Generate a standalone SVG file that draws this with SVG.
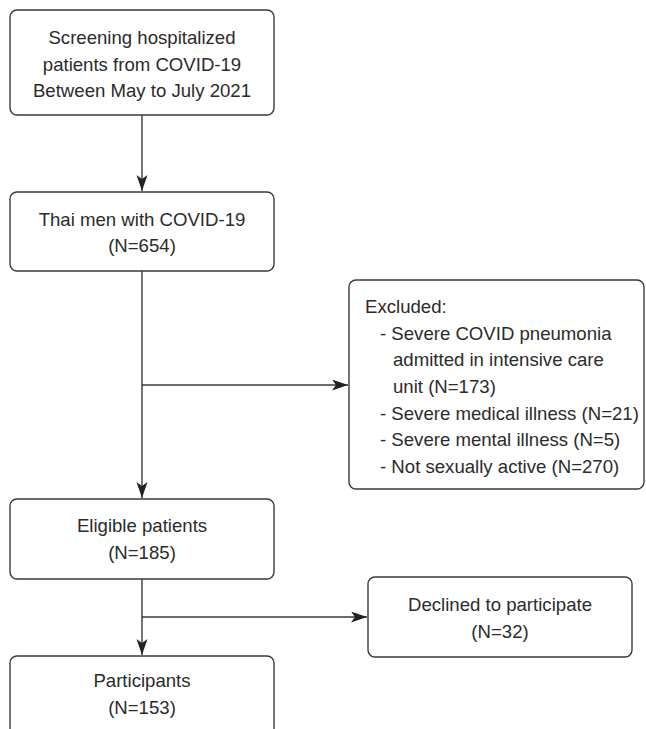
<svg xmlns="http://www.w3.org/2000/svg" width="646" height="729" viewBox="0 0 646 729">
<style>
.box{fill:#fff;stroke:#3a3a3a;stroke-width:1.4}
.t{font-family:"Liberation Sans",Arial,sans-serif;font-size:18.6px;fill:#2b2b2b}
.c{text-anchor:middle}
.ln{fill:none;stroke:#3a3a3a;stroke-width:1.4}
</style>
<defs>
<marker id="ah" markerUnits="userSpaceOnUse" markerWidth="18" markerHeight="12" refX="16" refY="5.5" orient="auto">
<path d="M0,0 L16,5.5 L0,11 L4,5.5 z" fill="#222"/>
</marker>
</defs>
<rect width="646" height="729" fill="#fff"/>
<g id="connectors">
<line class="ln" x1="142" y1="115" x2="142" y2="191" marker-end="url(#ah)"/>
<line class="ln" x1="142" y1="271" x2="142" y2="498" marker-end="url(#ah)"/>
<line class="ln" x1="142" y1="385" x2="348" y2="385" marker-end="url(#ah)"/>
<line class="ln" x1="142" y1="579" x2="142" y2="655" marker-end="url(#ah)"/>
<line class="ln" x1="142" y1="617" x2="367" y2="617" marker-end="url(#ah)"/>
</g>
<g id="screening">
<rect class="box" x="10" y="10" width="264" height="105" rx="7"/>
<text class="t c" x="142" y="44">Screening hospitalized</text>
<text class="t c" x="142" y="71">patients from COVID-19</text>
<text class="t c" x="142" y="97">Between May to July 2021</text>
</g>
<g id="thai">
<rect class="box" x="10" y="192" width="264" height="79" rx="7"/>
<text class="t c" x="142" y="226">Thai men with COVID-19</text>
<text class="t c" x="142" y="252">(N=654)</text>
</g>
<g id="excluded">
<rect class="box" x="349" y="280" width="295" height="209" rx="7"/>
<text class="t" x="365" y="313">Excluded:</text>
<text class="t" x="380" y="340">- Severe COVID pneumonia</text>
<text class="t" x="393" y="366">admitted in intensive care</text>
<text class="t" x="393" y="393">unit (N=173)</text>
<text class="t" x="380" y="420">- Severe medical illness (N=21)</text>
<text class="t" x="380" y="446">- Severe mental illness (N=5)</text>
<text class="t" x="380" y="473">- Not sexually active (N=270)</text>
</g>
<g id="eligible">
<rect class="box" x="10" y="499" width="264" height="80" rx="7"/>
<text class="t c" x="142" y="532">Eligible patients</text>
<text class="t c" x="142" y="559">(N=185)</text>
</g>
<g id="declined">
<rect class="box" x="368" y="577" width="264" height="80" rx="7"/>
<text class="t c" x="500" y="611">Declined to participate</text>
<text class="t c" x="500" y="638">(N=32)</text>
</g>
<g id="participants">
<rect class="box" x="10" y="656" width="264" height="90" rx="7"/>
<text class="t c" x="142" y="687">Participants</text>
<text class="t c" x="142" y="714">(N=153)</text>
</g>
</svg>
